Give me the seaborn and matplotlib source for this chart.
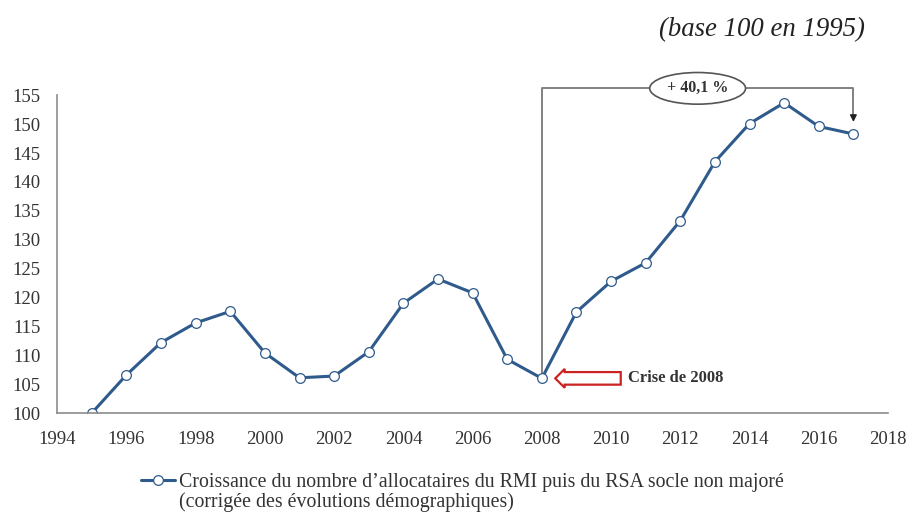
import pandas as pd
import numpy as np
import matplotlib.pyplot as plt
import seaborn as sns

# Data (base 100 in 1995)
years = [1995, 1996, 1997, 1998, 1999, 2000, 2001, 2002, 2003, 2004, 2005, 2006,
         2007, 2008, 2009, 2010, 2011, 2012, 2013, 2014, 2015, 2016, 2017]
index_values = [100.0, 106.6, 112.2, 115.6, 117.6, 110.4, 106.1, 106.4, 110.6, 119.0, 123.2, 120.8,
                109.3, 106.0, 117.5, 122.8, 126.0, 133.3, 143.5, 150.1, 153.7, 149.6, 148.3]
x_ticks = list(range(1994, 2019, 2))
y_ticks = list(range(100, 156, 5))
series_label = "Croissance du nombre d\u2019allocataires du RMI puis du RSA socle non major\u00e9"
series_note = "(corrig\u00e9e des \u00e9volutions d\u00e9mographiques)"
growth_label = "+ 40,1 %"
crisis_label = "Crise de 2008"
title = "(base 100 en 1995)"

df = pd.DataFrame({"annee": years, "indice": index_values})

sns.set_theme(style="white")
plt.rcParams['font.family'] = ['Liberation Serif', 'DejaVu Serif']

line_color = '#2f5b8c'
axis_color = '#8c8c8c'
text_color = '#333333'

fig = plt.figure(figsize=(9.08, 5.15), dpi=100)
ax = fig.add_axes([0.063, 0.198, 0.915, 0.617])

sns.lineplot(data=df, x="annee", y="indice", ax=ax, color=line_color, linewidth=2.2,
             marker='o', markersize=7, markerfacecolor='white', markeredgecolor=line_color,
             markeredgewidth=0.9, label=series_label, legend=False)

ax.set_xlim(1994, 2018)
ax.set_ylim(100, 155)
ax.set_xticks(x_ticks)
ax.set_yticks(y_ticks)
ax.set_xlabel('')
ax.set_ylabel('')
ax.tick_params(axis='both', labelsize=13.5, colors=axis_color, labelcolor=text_color,
               direction='out', length=6, width=1)
ax.tick_params(axis='x', pad=7)
ax.tick_params(axis='y', pad=6)
for side in ['top', 'right']:
    ax.spines[side].set_visible(False)
for side in ['left', 'bottom']:
    ax.spines[side].set_color(axis_color)
    ax.spines[side].set_linewidth(1.2)

# bracket from the 2008 trough up, across and down to 2017
y08 = index_values[years.index(2008)]
y17 = index_values[years.index(2017)]
top = 156.2
ax.plot([2008, 2008, 2017, 2017], [y08, top, top, y17 + 3.5], color='#777777',
        linewidth=1.3, clip_on=False, zorder=1)
ax.annotate('', xy=(2017, y17 + 1.6), xytext=(2017, y17 + 3.6),
            arrowprops=dict(arrowstyle='-|>', color='#222222', lw=1.0, mutation_scale=10),
            annotation_clip=False)
ax.text(2012.5, top, growth_label, ha='center', va='center', fontsize=11.5,
        fontweight='bold', color='#333333', zorder=5,
        bbox=dict(boxstyle='ellipse,pad=0.2', facecolor='white', edgecolor='#555555', lw=1.2))

# crisis marker
ax.text(2009.4, y08, ' ' * 30, ha='center', va='center', fontsize=5.5,
        bbox=dict(boxstyle='larrow,pad=0.3', facecolor='white', edgecolor='#cc2222', lw=1.6))
ax.text(2010.5, y08, crisis_label, ha='left', va='center', fontsize=12,
        fontweight='bold', color='#333333')

fig.text(0.953, 0.942, title, ha='right', va='center', fontsize=19.3, style='italic', color='#222222')

handles, labels = ax.get_legend_handles_labels()
leg = fig.legend(handles, labels, loc='upper left', bbox_to_anchor=(0.155, 0.082), frameon=False,
                 fontsize=14.3, handlelength=1.75, handletextpad=0.2, borderaxespad=0,
                 borderpad=0, labelcolor=text_color)
# second line of the legend label, under the first one
fig.canvas.draw()
ax.annotate(series_note, xy=(0, 0), xycoords=leg.get_texts()[0], xytext=(0, 0),
            textcoords='offset points', ha='left', va='top', fontsize=14.3, color=text_color,
            annotation_clip=False)

fig.savefig('out.png', dpi=100)
